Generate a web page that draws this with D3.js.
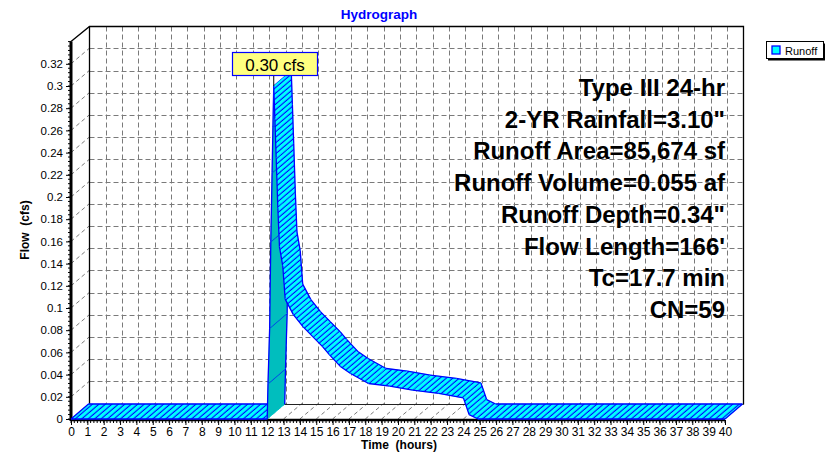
<!DOCTYPE html>
<html><head><meta charset="utf-8">
<script src="https://cdn.jsdelivr.net/npm/d3@7"></script>
<style>
html,body{margin:0;padding:0;background:#fff;}
svg{display:block;font-family:"Liberation Sans",Arial,sans-serif;}
</style></head>
<body><svg id="chart" width="835" height="453"></svg>
<script>
// ---- data ----
const times = [0, 12.0, 12.05, 12.15, 12.22, 12.3, 12.35, 12.4, 12.47, 12.55, 12.65, 12.75, 12.95, 13.1, 13.6, 14.2, 14.8, 15.4, 15.8, 16.5, 17.1, 18.2, 19.5, 20.9, 22.5, 24.0, 24.35, 24.9, 40];
const flows = [0, 0, 0.032, 0.082, 0.16, 0.222, 0.263, 0.30, 0.27, 0.235, 0.19, 0.155, 0.138, 0.108, 0.094, 0.083, 0.074, 0.065, 0.058, 0.047, 0.041, 0.032, 0.0297, 0.026, 0.023, 0.019, 0.004, 0, 0];
const xTicks = d3.range(0, 41, 1);
const xTickLabels = xTicks.map(String);
const yTicks = [0,0.02,0.04,0.06,0.08,0.1,0.12,0.14,0.16,0.18,0.2,0.22,0.24,0.26,0.28,0.3,0.32];
const yTickLabels = ["0","0.02","0.04","0.06","0.08","0.1","0.12","0.14","0.16","0.18","0.2","0.22","0.24","0.26","0.28","0.3","0.32"];
const infoLines = ["Type III 24-hr","2-YR Rainfall=3.10\"","Runoff Area=85,674 sf","Runoff Volume=0.055 af","Runoff Depth=0.34\"","Flow Length=166'","Tc=17.7 min","CN=59"];
const seriesName = "Runoff";
const peakLabel = "0.30 cfs";
const peakTime = 12.4, peakFlow = 0.30;

// ---- layout ----
const svg = d3.select("#chart");
const x = d3.scaleLinear().domain([0,40]).range([71,725]);
const y = d3.scaleLinear().domain([0,0.34]).range([419,41.6]);
const WDX = 18.3, WDY = -15.5;   // wall depth
const RDX = 17.5, RDY = -15;     // ribbon depth
const BLUE = "#0000FF", CYAN = "#00FFFF", TEAL = "#00BEBE";
const s = v => Math.round(v) + 0.5;

const defs = svg.append("defs");
const pat = defs.append("pattern").attr("id","hatch").attr("patternUnits","userSpaceOnUse")
  .attr("width",10).attr("height",4.2).attr("patternTransform","rotate(-40.5)");
pat.append("line").attr("x1",0).attr("x2",10).attr("y1",2).attr("y2",2)
  .attr("stroke",BLUE).attr("stroke-width",1.1);

// title
svg.append("text").attr("x",379).attr("y",19).attr("text-anchor","middle")
  .attr("font-size",13.5).attr("font-weight","bold").attr("fill",BLUE).text("Hydrograph");

// grid
const g = svg.append("g");
const dash = "5,3";
const GC = "#7a7a7a";
g.selectAll(".vg").data(xTicks.slice(1,-1)).join("line")
  .attr("x1",d=>s(x(d)+WDX)).attr("x2",d=>s(x(d)+WDX))
  .attr("y1",s(y(0.34)+WDY)).attr("y2",s(y(0)+WDY))
  .attr("stroke",GC).attr("stroke-dasharray",dash);
g.selectAll(".hg").data(yTicks.slice(1)).join("line")
  .attr("x1",s(x(0)+WDX)).attr("x2",s(x(40)+WDX))
  .attr("y1",d=>s(y(d)+WDY)).attr("y2",d=>s(y(d)+WDY))
  .attr("stroke",GC).attr("stroke-dasharray",dash);
g.selectAll(".lg").data(yTicks.slice(1)).join("line")
  .attr("x1",x(0)).attr("x2",x(0)+WDX)
  .attr("y1",d=>y(d)).attr("y2",d=>y(d)+WDY)
  .attr("stroke",GC).attr("stroke-dasharray","4,3");
g.selectAll(".fg").data(xTicks.slice(1,-1)).join("line")
  .attr("x1",d=>x(d)).attr("x2",d=>x(d)+WDX)
  .attr("y1",y(0)).attr("y2",y(0)+WDY)
  .attr("stroke",GC).attr("stroke-dasharray","4,3");
g.append("line").attr("x1",s(x(0)+WDX)).attr("x2",s(x(40)+WDX)).attr("y1",s(y(0)+WDY)).attr("y2",s(y(0)+WDY))
  .attr("stroke","#222").attr("stroke-width",1);
g.append("path").attr("d",`M${x(0)},${y(0.34)} L${s(x(0)+WDX)},${s(y(0.34)+WDY)} L${s(x(40)+WDX)},${s(y(0.34)+WDY)} L${s(x(40)+WDX)},${s(y(0)+WDY)}`)
  .attr("fill","none").attr("stroke","#000").attr("stroke-width",1.3);
g.append("line").attr("x1",s(x(0)+WDX)).attr("x2",s(x(0)+WDX)).attr("y1",s(y(0.34)+WDY)).attr("y2",s(y(0)+WDY))
  .attr("stroke","#000").attr("stroke-width",1.3);

// axes
const yAxis = d3.axisLeft(y).tickValues(yTicks).tickFormat((d,i)=>yTickLabels[i]).tickSize(5).tickPadding(3);
const ya = svg.append("g").attr("transform",`translate(${x(0)},0)`).call(yAxis);
ya.select(".domain").remove();
ya.selectAll("text").attr("font-size",11.5).attr("font-family","Liberation Sans, Arial, sans-serif").attr("fill","#000");
ya.selectAll("line").attr("stroke","#000");
const yMinor = d3.range(0,0.3401,0.004);
svg.append("g").selectAll("line").data(yMinor).join("line")
  .attr("x1",x(0)-3).attr("x2",x(0)).attr("y1",d=>y(d)).attr("y2",d=>y(d)).attr("stroke","#000");
const xAxis = d3.axisBottom(x).tickValues(xTicks).tickFormat((d,i)=>xTickLabels[i]).tickSize(5).tickPadding(2);
const xa = svg.append("g").attr("transform",`translate(0,${y(0)+1})`).call(xAxis);
xa.select(".domain").remove();
xa.selectAll("text").attr("font-size",12).attr("font-family","Liberation Sans, Arial, sans-serif").attr("fill","#000");
xa.selectAll("line").attr("stroke","#000");
const xMinor = d3.range(0,40.001,0.2);
svg.append("g").selectAll("line").data(xMinor).join("line")
  .attr("x1",d=>x(d)).attr("x2",d=>x(d)).attr("y1",y(0)+1).attr("y2",y(0)+4).attr("stroke","#000");
svg.append("line").attr("x1",x(0)).attr("x2",x(40)).attr("y1",y(0)+1).attr("y2",y(0)+1)
  .attr("stroke","#000").attr("stroke-width",2.5);
svg.append("line").attr("x1",x(0)).attr("x2",x(0)).attr("y1",y(0.34)).attr("y2",y(0)+2)
  .attr("stroke","#000").attr("stroke-width",3);

// axis titles
svg.append("text").attr("transform","translate(29,230) rotate(-90)").attr("text-anchor","middle")
  .attr("font-size",12).attr("font-weight","bold").style("white-space","pre").text("Flow  (cfs)");
svg.append("text").attr("x",399).attr("y",449).attr("text-anchor","middle")
  .attr("font-size",12).attr("font-weight","bold").style("white-space","pre").text("Time  (hours)");

// info text
svg.append("g").selectAll("text").data(infoLines).join("text")
  .attr("x",725).attr("y",(d,i)=>96+i*31.7).attr("text-anchor","end")
  .attr("font-size",24).attr("font-weight","bold").attr("fill","#000").text(d=>d);

// ribbon
const pts = times.map((t,i)=>[x(t), y(flows[i])]);
const rib = svg.append("g");
const sp = p=>p[0].toFixed(2)+","+p[1].toFixed(2);
for(let i=0;i<pts.length-1;i++){
  const p0=pts[i], p1=pts[i+1];
  const b0=[p0[0]+RDX,p0[1]+RDY], b1=[p1[0]+RDX,p1[1]+RDY];
  const rising = flows[i+1] > flows[i];
  const poly = [p0,p1,b1,b0].map(sp).join(" ");
  const q = rib.append("g");
  q.append("polygon").attr("points",poly).attr("fill",rising?TEAL:CYAN).attr("stroke",rising?TEAL:CYAN).attr("stroke-width",0.5);
  if(!rising) q.append("polygon").attr("points",poly).attr("fill","url(#hatch)");
  q.append("path").attr("d",`M${sp(p0)}L${sp(p1)}M${sp(b0)}L${sp(b1)}`+(rising||i===pts.length-2?`M${sp(p1)}L${sp(b1)}`:"")+(i===0?`M${sp(p0)}L${sp(b0)}`:""))
    .attr("fill","none").attr("stroke",BLUE).attr("stroke-width",1.3).attr("stroke-linejoin","round");
}

// peak annotation
const px = x(peakTime), py = y(peakFlow);
svg.append("line").attr("x1",px).attr("x2",px).attr("y1",py).attr("y2",75).attr("stroke","#000");
svg.append("rect").attr("x",232.5).attr("y",52.5).attr("width",85).attr("height",23)
  .attr("fill","#FFFF80").attr("stroke",BLUE).attr("stroke-width",1.2);
svg.append("text").attr("x",275).attr("y",70.5).attr("text-anchor","middle")
  .attr("font-size",17).attr("fill","#000").text(peakLabel);

// legend
svg.append("rect").attr("x",768).attr("y",43.5).attr("width",57).attr("height",17).attr("fill","#000");
svg.append("rect").attr("x",766.5).attr("y",41.5).attr("width",57).attr("height",17).attr("fill","#fff").attr("stroke","#000");
svg.append("rect").attr("x",772).attr("y",46).attr("width",8).attr("height",8).attr("fill",CYAN).attr("stroke",BLUE).attr("stroke-width",1.3);
svg.append("text").attr("x",785).attr("y",54.5).attr("font-size",11).attr("fill","#000").text(seriesName);
</script>
</body></html>
